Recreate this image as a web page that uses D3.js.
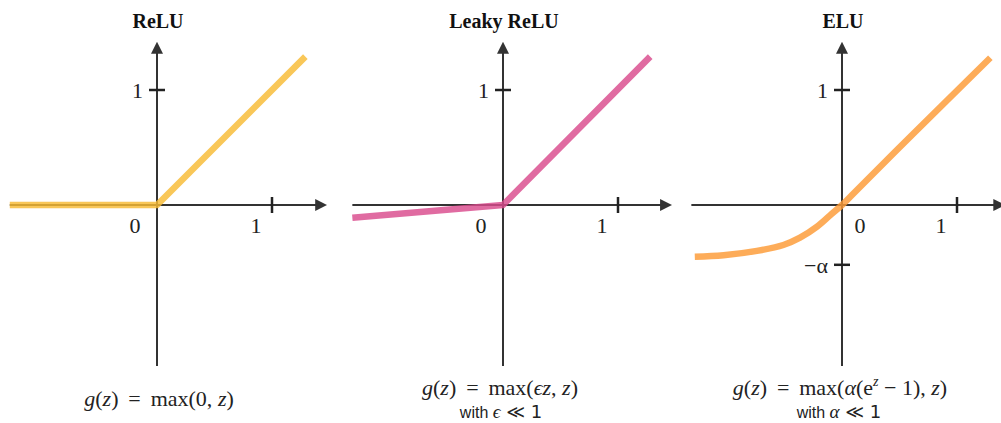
<!DOCTYPE html>
<html>
<meta charset="utf-8">
<script src="https://cdn.jsdelivr.net/npm/d3@7"></script>
<style>
body{ margin:0; background:white; }
.axis{ stroke:#333; stroke-width:2; fill:none; }
.tick{ stroke:#222; stroke-width:2.5; }
.lbl{ font-family:"Liberation Serif", "DejaVu Serif", serif; font-size:22px; fill:#222; }
.title{ font-family:"Liberation Serif", serif; font-weight:bold; font-size:20px; fill:#111; text-anchor:middle; }
.formula{ font-family:"Liberation Serif", "DejaVu Serif", serif; font-size:22px; fill:#222; text-anchor:middle; }
.note{ font-family:"Liberation Sans", Arial, sans-serif; font-size:16px; fill:#222; text-anchor:middle; }
</style>
<body>
<div id="chart"></div>
<script>
var W = 1001, H = 423;

// titles of the three panels
var titles = ["ReLU", "Leaky ReLU", "ELU"];

// curves (z, g(z))
var reluZ = [-1.28, 0, 1.29],
    reluG = [0, 0, 1.29];
var leakyZ = [-1.31, 0, 1.28],
    leakyG = [-0.11, 0, 1.29];
var eluZ = [-1.28, -1.03, -0.74, -0.51, -0.365, -0.217, -0.104, 0, 0.1, 0.6, 1.29],
    eluG = [-0.45, -0.437, -0.399, -0.348, -0.284, -0.188, -0.09, 0, 0.1, 0.6, 1.28];

// axis extents (data units) per panel
var xExtent = [[-1.28, 1.48], [-1.31, 1.47], [-1.31, 1.42]];
var yExtent = [-1.4, 1.42];

// tick values
var xTicks = [1, 1, 1];
var yTicks = [[1], [1], [1, -0.52]];
var yTickLabels = [["1"], ["1"], ["1", "\u2212\u03b1"]];

var colors = ["#f8bb33", "#d94a8c", "#fd9a35"];
var origins = [157, 503, 842];
var unit = 115, oy = 205;

var svg = d3.select("#chart").append("svg").attr("width", W).attr("height", H);

var defs = svg.append("defs");
defs.append("marker")
    .attr("id", "arrow")
    .attr("viewBox", "0 0 12 12")
    .attr("refX", 1).attr("refY", 6)
    .attr("markerWidth", 12).attr("markerHeight", 12)
    .attr("markerUnits", "userSpaceOnUse")
    .attr("orient", "auto")
  .append("path")
    .attr("d", "M0,0 L12,6 L0,12 Z")
    .attr("fill", "#333");

var curves = [
  d3.zip(reluZ, reluG),
  d3.zip(leakyZ, leakyG),
  d3.zip(eluZ, eluG)
];

titles.forEach(function(t, i){
  var ox = origins[i];
  var x = d3.scaleLinear().domain([0, 1]).range([ox, ox + unit]);
  var y = d3.scaleLinear().domain([0, 1]).range([oy, oy - unit]);
  var g = svg.append("g");

  // axes
  g.append("line").attr("class", "axis")
    .attr("x1", x(xExtent[i][0])).attr("x2", x(xExtent[i][1]) - 11)
    .attr("y1", y(0)).attr("y2", y(0))
    .attr("marker-end", "url(#arrow)");
  g.append("line").attr("class", "axis")
    .attr("x1", x(0)).attr("x2", x(0))
    .attr("y1", y(yExtent[0])).attr("y2", y(yExtent[1]) + 11)
    .attr("marker-end", "url(#arrow)");

  // x tick
  var tx = x(xTicks[i]);
  g.append("line").attr("class", "tick")
    .attr("x1", tx).attr("x2", tx).attr("y1", oy - 8).attr("y2", oy + 8);
  g.append("text").attr("class", "lbl")
    .attr("x", tx - 16).attr("y", oy + 28).attr("text-anchor", "middle").text("1");

  // y ticks
  yTicks[i].forEach(function(v, k){
    g.append("line").attr("class", "tick")
      .attr("x1", ox - 8).attr("x2", ox + 8).attr("y1", y(v)).attr("y2", y(v));
    g.append("text").attr("class", "lbl")
      .attr("x", ox - 14).attr("y", y(v) + 8).attr("text-anchor", "end").text(yTickLabels[i][k]);
  });

  // origin label
  g.append("text").attr("class", "lbl")
    .attr("x", i == 2 ? ox + 18 : ox - 22).attr("y", oy + 28)
    .attr("text-anchor", "middle").text("0");

  // curve
  var line = d3.line()
    .x(function(d){ return x(d[0]); })
    .y(function(d){ return y(d[1]); })
    .curve(i == 2 ? d3.curveCatmullRom.alpha(0.5) : d3.curveLinear);
  g.append("path")
    .attr("d", line(curves[i]))
    .attr("fill", "none")
    .attr("stroke", colors[i])
    .attr("stroke-width", 6.5)
    .attr("stroke-opacity", 0.82)
    .attr("stroke-linejoin", "round");

  // title
  g.append("text").attr("class", "title").attr("x", ox + 1).attr("y", 28).text(t);
});

// formulas
var sp = "\u2009";
function formula(cx, cy, parts){
  var t = svg.append("text").attr("class", "formula").attr("x", cx).attr("y", cy);
  parts.forEach(function(p){
    var s = t.append("tspan").text(p[0]);
    if (p[1] == "i") s.attr("font-style", "italic");
    if (p[1] == "sup") s.attr("font-style", "italic").attr("font-size", "14px").attr("dy", -9);
    if (p[1] == "after") s.attr("dy", 9);
  });
}

formula(159, 406, [["g", "i"], ["("], ["z", "i"], [")" + sp + " = " + sp + "max(0, "], ["z", "i"], [")"]]);
formula(500, 395, [["g", "i"], ["("], ["z", "i"], [")" + sp + " = " + sp + "max("], ["\u03f5z", "i"], [", "], ["z", "i"], [")"]]);
formula(840, 395, [["g", "i"], ["("], ["z", "i"], [")" + sp + " = " + sp + "max("], ["\u03b1", "i"], ["(e"], ["z", "sup"], [" \u2212 1), ", "after"], ["z", "i"], [")"]]);

var n1 = svg.append("text").attr("class", "note").attr("x", 501).attr("y", 418);
n1.append("tspan").text("with ");
n1.append("tspan").attr("font-family", "Liberation Serif, serif").attr("font-style", "italic").attr("font-size", "19px").text("\u03f5");
n1.append("tspan").attr("font-family", "DejaVu Sans, sans-serif").attr("font-size", "18px").text(" \u226a 1");

var n2 = svg.append("text").attr("class", "note").attr("x", 839).attr("y", 418);
n2.append("tspan").text("with ");
n2.append("tspan").attr("font-family", "Liberation Serif, serif").attr("font-style", "italic").attr("font-size", "19px").text("\u03b1");
n2.append("tspan").attr("font-family", "DejaVu Sans, sans-serif").attr("font-size", "18px").text(" \u226a 1");
</script>
</body>
</html>
